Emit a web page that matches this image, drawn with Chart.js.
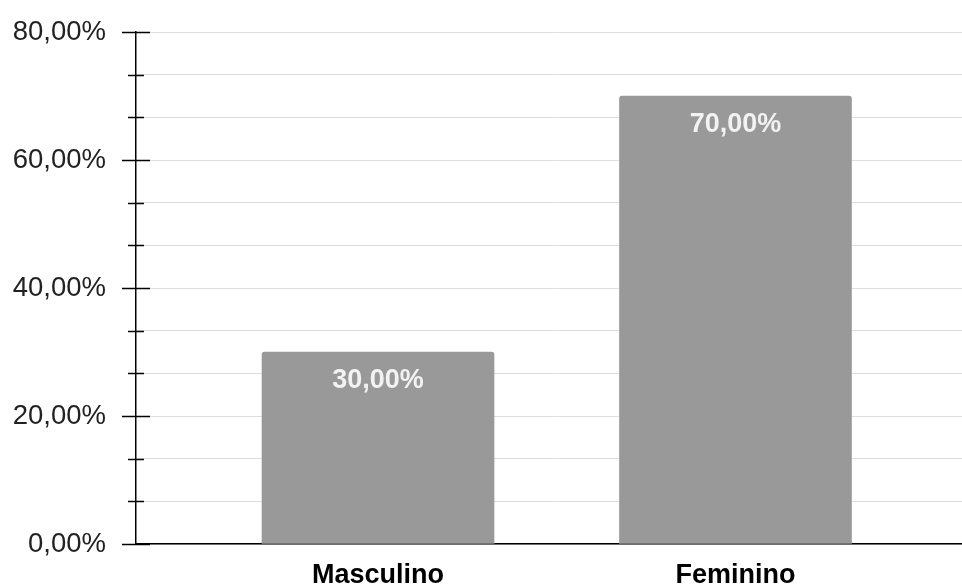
<!DOCTYPE html>
<html>
<head>
<meta charset="utf-8">
<script src="https://cdn.jsdelivr.net/npm/chart.js@4"></script>
<style>
  html, body { margin: 0; padding: 0; background: #fff; overflow: hidden; }
  #wrap { position: absolute; left: 0; top: 0; width: 980px; height: 587px; }
</style>
</head>
<body>
<div id="wrap"><canvas id="barChart" width="980" height="587"></canvas></div>
<script>
  const categories = ["Masculino", "Feminino"];
  const values = [30, 70];
  const yTicks = [0, 20, 40, 60, 80];
  const yTickLabels = ["0,00%", "20,00%", "40,00%", "60,00%", "80,00%"];
  const valueLabels = ["30,00%", "70,00%"];

  const fontFamily = "'Liberation Sans', Arial, sans-serif";

  // tick marks that cross the y axis (long at labelled values, short between)
  const axisTicks = {
    id: "axisTicks",
    afterDraw(chart) {
      const ctx = chart.ctx;
      const y = chart.scales.y;
      const x0 = y.right;
      ctx.save();
      ctx.strokeStyle = "#000";
      ctx.lineWidth = 1.5;
      y.ticks.forEach(t => {
        const py = Math.round(y.getPixelForValue(t.value)) + 0.5;
        const major = yTicks.some(v => Math.abs(v - t.value) < 1e-6);
        const len = major ? 14 : 8;
        ctx.beginPath();
        ctx.moveTo(x0 - len, py);
        ctx.lineTo(x0 + len, py);
        ctx.stroke();
      });
      ctx.restore();
    }
  };

  // value labels inside the bars
  const barLabels = {
    id: "barLabels",
    afterDatasetsDraw(chart) {
      const ctx = chart.ctx;
      const meta = chart.getDatasetMeta(0);
      ctx.save();
      ctx.fillStyle = "#f2f2f2";
      ctx.font = "bold 27px " + fontFamily;
      ctx.textAlign = "center";
      ctx.textBaseline = "middle";
      meta.data.forEach((bar, i) => {
        ctx.fillText(valueLabels[i], bar.x, bar.y + 29);
      });
      ctx.restore();
    }
  };

  const ctx = document.getElementById("barChart").getContext("2d");

  new Chart(ctx, {
    type: "bar",
    data: {
      datasets: [{
        data: values.map((v, i) => ({ x: i + 1, y: v })),
        backgroundColor: "#999999",
        borderRadius: { topLeft: 3, topRight: 3 },
        borderSkipped: "bottom",
        barThickness: 232
      }]
    },
    options: {
      responsive: false,
      animation: false,
      layout: { padding: { top: 32, left: 0, right: 0, bottom: 0 } },
      plugins: {
        legend: { display: false },
        tooltip: { enabled: false }
      },
      scales: {
        x: {
          type: "linear",
          offset: false,
          min: 0.323,
          max: 2.684,
          afterFit(scale) { scale.height = 43; },
          afterBuildTicks(scale) {
            scale.ticks = categories.map((c, i) => ({ value: i + 1 }));
          },
          grid: { display: false },
          border: { color: "#000", width: 1.5 },
          ticks: {
            padding: 7,
            color: "#000",
            font: { family: fontFamily, size: 27, weight: "bold" },
            callback: v => categories[v - 1] || ""
          }
        },
        y: {
          min: 0,
          max: 80,
          afterFit(scale) { scale.width = 136; },
          afterBuildTicks(scale) {
            const t = [];
            for (let k = 0; k <= 12; k++) t.push({ value: k * 20 / 3 });
            scale.ticks = t;
          },
          grid: { color: "#dedede", lineWidth: 1, tickLength: 30, tickColor: "rgba(0,0,0,0)" },
          border: { color: "#000", width: 1.5 },
          ticks: {
            padding: 0,
            color: "#222",
            font: { family: fontFamily, size: 27.5 },
            callback(v) {
              const i = yTicks.findIndex(t => Math.abs(t - v) < 1e-6);
              return i >= 0 ? yTickLabels[i] : "";
            }
          }
        }
      }
    },
    plugins: [axisTicks, barLabels]
  });
</script>
</body>
</html>
